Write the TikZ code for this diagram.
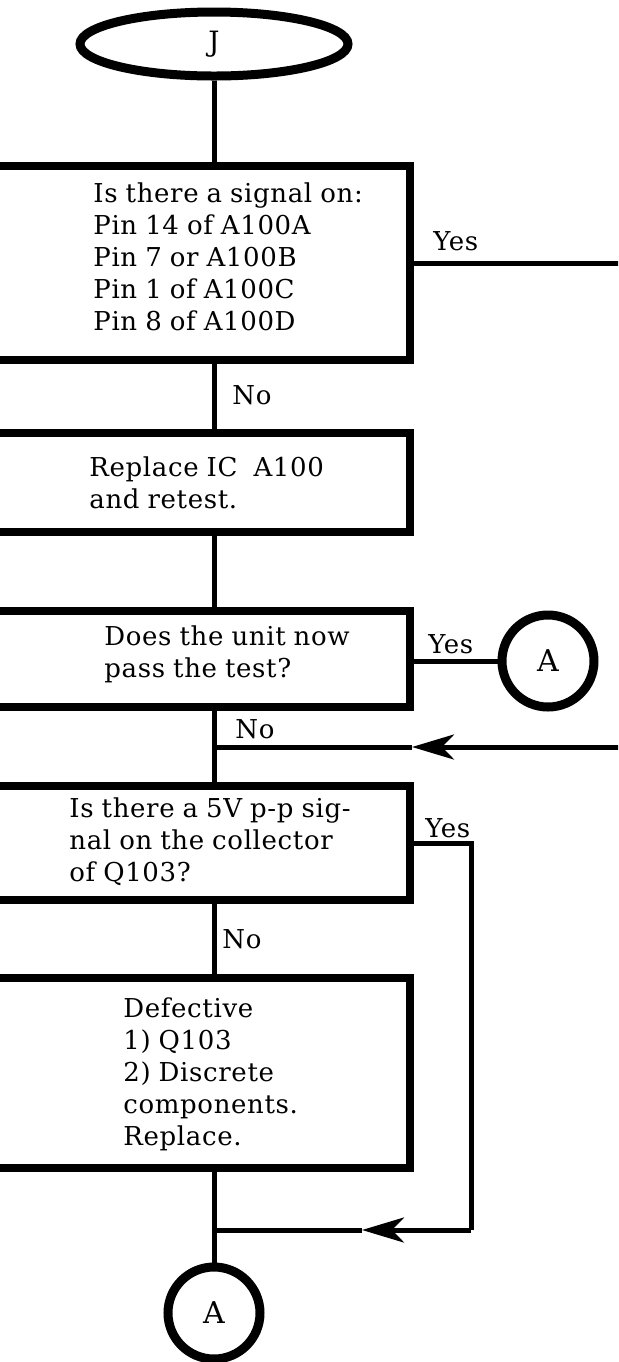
\documentclass[tikz,border=0pt]{standalone}
\usepackage{fontspec}
\setmainfont{DejaVu Serif}[LetterSpace=2.5,WordSpace=0.9]
\usetikzlibrary{positioning,arrows.meta,shapes.geometric}

\begin{document}
\begin{tikzpicture}[x=0.5pt,y=-0.5pt,>={Stealth[length=21pt,width=12.5pt,inset=6pt]},
  font=\fontsize{13pt}{16pt}\selectfont,
  box/.style={draw,line width=4pt,minimum width=210pt,inner sep=0pt},
  conn/.style={line width=2.5pt},
  txt/.style={anchor=north west,align=left,inner sep=0pt},
  lbl/.style={anchor=base west,inner sep=0pt},
  conr/.style={draw,circle,line width=4.5pt,minimum size=46pt,inner sep=0pt,font=\fontsize{15pt}{18pt}\selectfont}]
\useasboundingbox (0,0) rectangle (618,1362);
\clip (0,0) rectangle (618,1362);
\node[draw,ellipse,line width=4.5pt,minimum width=134pt,minimum height=32pt,inner sep=0pt,font=\fontsize{14pt}{17pt}\selectfont] (j) at (214,44) {J};
\node[box,minimum height=97pt] (q1) at (200,263) {};
\node[box,minimum height=49.5pt] (q2) at (200,482.5) {};
\node[box,minimum height=48pt] (q3) at (200,659) {};
\node[box,minimum height=57pt] (q4) at (200,843) {};
\node[box,minimum height=95pt] (q5) at (200,1073) {};
\node[conr] (a1) at (548,661) {A};
\node[conr] (a2) at (214,1313) {A};
\node[txt] (t1) at (93,182) {Is there a signal on:\\Pin 14 of A100A\\Pin 7 or A100B\\Pin 1 of A100C\\Pin 8 of A100D};
\node[txt] (t2) at (89,456) {Replace IC~~A100\\and retest.};
\node[txt] (t3) at (104,625) {Does the unit now\\pass the test?};
\node[txt] (t4) at (69,797) {Is there a 5V p-p sig-\\nal on the collector\\of Q103?};
\node[txt] (t5) at (123,997) {Defective\\1) Q103\\2) Discrete\\components.\\Replace.};
\node[lbl] (y1) at (433,250) {Yes};
\node[lbl] (n1) at (232,404) {No};
\node[lbl] (y3) at (428,653) {Yes};
\node[lbl] (n3) at (235,738) {No};
\node[lbl] (y4) at (425,837) {Yes};
\node[lbl] (n4) at (222,948) {No};
\coordinate (e1) at (630,263);
\coordinate (e2) at (630,747);
\coordinate (h2) at (412,747);
\coordinate (c4) at (471,1230);
\coordinate (h4) at (362,1230);
\draw[conn] (j) -- (j |- q1.north);
\draw[conn] (q1.south -| j) -- (q2.north -| j);
\draw[conn] (q2.south -| j) -- (q3.north -| j);
\draw[conn] (q3.south -| j) -- (q4.north -| j);
\draw[conn] (q4.south -| j) -- (q5.north -| j);
\draw[conn] (q5.south -| j) -- (a2);
\draw[conn] (q1.east) -- (e1);
\draw[conn] (q3.east |- a1) -- (a1);
\draw[conn,->] (e2) -- (h2);
\draw[conn] (h2) -- (h2 -| j);
\draw[conn] (q4.east) -| (c4);
\draw[conn,->] (c4) -- (h4);
\draw[conn] (h4) -- (h4 -| j);
\end{tikzpicture}
\end{document}
